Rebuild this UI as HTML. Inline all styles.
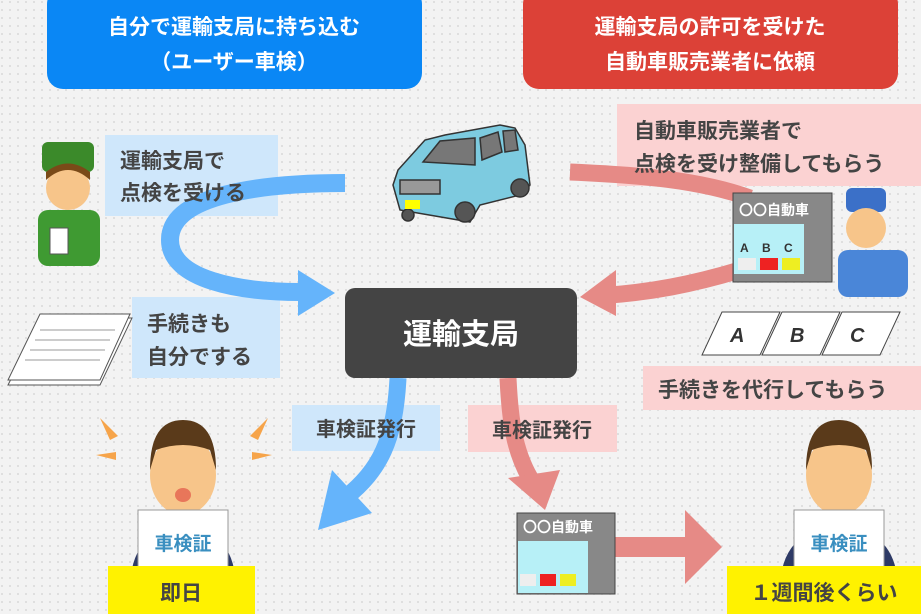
<!DOCTYPE html>
<html><head><meta charset="utf-8"><style>
html,body{margin:0;padding:0;}
body{width:921px;height:614px;overflow:hidden;background:#f3f3f3;}
svg{display:block;}
text{font-family:"Liberation Sans","Noto Sans CJK JP",sans-serif;font-weight:bold;}
</style></head><body>
<svg width="921" height="614" viewBox="0 0 921 614" xmlns="http://www.w3.org/2000/svg">
<defs>
<pattern id="dots" width="8" height="8" patternUnits="userSpaceOnUse"><circle cx="2" cy="2" r="1" fill="#d9d9d9"/></pattern>
</defs>
<rect width="921" height="614" fill="#f3f3f3"/>
<rect width="921" height="614" fill="url(#dots)"/>

<!-- headers -->
<rect x="47" y="-12" width="375" height="101" rx="16" fill="#0a87f5"/>
<text x="234" y="34" font-size="21" fill="#fff" text-anchor="middle">自分で運輸支局に持ち込む</text>
<text x="234" y="69" font-size="21" fill="#fff" text-anchor="middle">（ユーザー車検）</text>
<rect x="523" y="-12" width="375" height="101" rx="16" fill="#dc4137"/>
<text x="710" y="34" font-size="21" fill="#fff" text-anchor="middle">運輸支局の許可を受けた</text>
<text x="710" y="69" font-size="21" fill="#fff" text-anchor="middle">自動車販売業者に依頼</text>

<!-- label backgrounds -->
<rect x="105" y="135" width="173" height="81" fill="#cfe7fb"/>
<rect x="132" y="297" width="148" height="81" fill="#cfe7fb"/>
<rect x="617" y="104" width="304" height="82" fill="#fbd2d2"/>
<rect x="643" y="366" width="278" height="44" fill="#fbd2d2"/>
<rect x="292" y="405" width="148" height="46" fill="#cfe7fb"/>
<rect x="468" y="405" width="149" height="47" fill="#fbd2d2"/>

<!-- blue arrows -->
<path d="M345 183 C260 183 170 195 170 240 C170 280 240 292 300 292" fill="none" stroke="#65b4fb" stroke-width="18"/>
<polygon points="298,270 335,293 298,316" fill="#65b4fb"/>
<path d="M398 378 C395 440 380 470 345 498" fill="none" stroke="#65b4fb" stroke-width="17"/>
<polygon points="332,470 372,513 318,530" fill="#65b4fb"/>

<!-- red arrows -->
<path d="M570 172 C640 175 700 180 750 198" fill="none" stroke="#e68a86" stroke-width="17"/>
<path d="M740 270 C690 285 650 292 610 295" fill="none" stroke="#e68a86" stroke-width="17"/>
<polygon points="616,270 580,297 616,316" fill="#e68a86"/>
<path d="M508 378 C510 420 514 450 530 478" fill="none" stroke="#e68a86" stroke-width="17"/>
<polygon points="508,478 560,470 545,510" fill="#e68a86"/>
<rect x="615" y="537" width="70" height="20" fill="#e68a86"/>
<polygon points="685,510 722,547 685,584" fill="#e68a86"/>

<!-- label texts -->
<text x="120" y="168" font-size="21" fill="#444">運輸支局で</text>
<text x="120" y="200" font-size="21" fill="#444">点検を受ける</text>
<text x="147" y="331" font-size="21" fill="#444">手続きも</text>
<text x="147" y="364" font-size="21" fill="#444">自分でする</text>
<text x="634" y="138" font-size="21" fill="#444">自動車販売業者で</text>
<text x="634" y="171" font-size="21" fill="#444">点検を受け整備してもらう</text>
<text x="658" y="397" font-size="21" fill="#444">手続きを代行してもらう</text>
<text x="366" y="436" font-size="20" fill="#444" text-anchor="middle">車検証発行</text>
<text x="542" y="437" font-size="20" fill="#444" text-anchor="middle">車検証発行</text>

<!-- center -->
<rect x="345" y="288" width="232" height="90" rx="10" fill="#444"/>
<text x="461" y="344" font-size="29" fill="#fff" text-anchor="middle">運輸支局</text>

<!-- car -->
<g stroke="#333" stroke-width="1.5">
<path d="M393 185 L398 170 L425 140 L445 135 L500 125 L515 128 L525 145 L530 185 L520 195 L480 205 L470 222 L400 210 Z" fill="#7dcbe0"/>
<path d="M423 162 L440 141 L475 138 L475 165 Z" fill="#777"/>
<path d="M480 138 L498 132 L502 152 L482 160 Z" fill="#777"/>
<path d="M503 131 L515 130 L518 150 L505 152 Z" fill="#777"/>
<rect x="400" y="180" width="40" height="14" fill="#999"/>
<circle cx="465" cy="212" r="10" fill="#555"/><circle cx="520" cy="188" r="9" fill="#555"/>
<circle cx="408" cy="215" r="6" fill="#555"/>
<rect x="405" y="200" width="15" height="9" fill="#ff0" stroke="none"/>
</g>

<!-- left worker -->
<rect x="42" y="142" width="52" height="30" rx="6" fill="#3b8a2a"/>
<circle cx="68" cy="188" r="22" fill="#f7c58a"/>
<path d="M46 180 Q68 160 90 180 L90 172 Q68 155 46 172 Z" fill="#7a4a18"/>
<rect x="38" y="210" width="62" height="56" rx="10" fill="#3f9a32"/>
<rect x="50" y="228" width="18" height="26" fill="#fff" stroke="#555"/>

<!-- papers -->
<g stroke="#555" fill="#fff"><polygon points="8,385 100,385 132,318 42,318"/><polygon points="8,380 100,380 130,314 40,314"/></g>
<g stroke="#999"><line x1="40" y1="330" x2="115" y2="330"/><line x1="35" y1="340" x2="110" y2="340"/><line x1="30" y1="350" x2="105" y2="350"/><line x1="25" y1="360" x2="100" y2="360"/></g>

<!-- shop top -->
<rect x="733" y="193" width="99" height="89" fill="#888" stroke="#444"/>
<text x="739" y="215" font-size="14" fill="#fff">〇〇自動車</text>
<rect x="734" y="224" width="70" height="50" fill="#b7f0f7"/>
<rect x="738" y="258" width="18" height="12" fill="#eee"/><rect x="760" y="258" width="18" height="12" fill="#e22"/><rect x="782" y="258" width="18" height="12" fill="#ee2"/>
<text x="740" y="252" font-size="12" fill="#333">A</text><text x="762" y="252" font-size="12" fill="#333">B</text><text x="784" y="252" font-size="12" fill="#333">C</text>
<!-- mechanic -->
<rect x="846" y="188" width="40" height="24" rx="6" fill="#3b70c8"/>
<circle cx="866" cy="228" r="20" fill="#f7c58a"/>
<rect x="838" y="250" width="70" height="47" rx="10" fill="#4a86d8"/>
<!-- ABC -->
<g stroke="#444" fill="#fff"><polygon points="702,355 760,355 780,312 722,312"/><polygon points="762,355 820,355 840,312 782,312"/><polygon points="822,355 880,355 900,312 842,312"/></g>
<text x="730" y="342" font-size="20" font-style="italic" fill="#333">A</text><text x="790" y="342" font-size="20" font-style="italic" fill="#333">B</text><text x="850" y="342" font-size="20" font-style="italic" fill="#333">C</text>

<!-- shop bottom -->
<rect x="517" y="513" width="98" height="81" fill="#888" stroke="#444"/>
<text x="523" y="532" font-size="14" fill="#fff">〇〇自動車</text>
<rect x="518" y="541" width="70" height="52" fill="#b7f0f7"/>
<rect x="520" y="574" width="16" height="12" fill="#eee"/><rect x="540" y="574" width="16" height="12" fill="#e22"/><rect x="560" y="574" width="16" height="12" fill="#ee2"/>

<!-- person left -->
<g fill="#f6a44a"><polygon points="100,418 118,436 110,440"/><polygon points="268,418 250,436 258,440"/><polygon points="96,455 116,452 116,460"/><polygon points="272,455 252,452 252,460"/></g>
<path d="M130 590 Q130 530 183 525 Q236 530 236 590 Z" fill="#2e3a66"/>
<ellipse cx="183" cy="475" rx="33" ry="40" fill="#f7c58a"/>
<path d="M150 470 Q150 420 183 420 Q216 420 216 470 L210 450 Q183 440 156 450 Z" fill="#5a3a1a"/>
<ellipse cx="183" cy="495" rx="8" ry="7" fill="#e8765a"/>
<rect x="138" y="510" width="90" height="60" fill="#fff" stroke="#999"/>
<text x="183" y="550" font-size="19" fill="#3a8fc0" text-anchor="middle">車検証</text>
<!-- person right -->
<path d="M780 590 Q780 530 839 525 Q898 530 898 590 Z" fill="#2e3a66"/>
<ellipse cx="839" cy="475" rx="33" ry="40" fill="#f7c58a"/>
<path d="M806 470 Q806 420 839 420 Q872 420 872 470 L866 450 Q839 440 812 450 Z" fill="#5a3a1a"/>
<rect x="794" y="510" width="90" height="60" fill="#fff" stroke="#999"/>
<text x="839" y="550" font-size="19" fill="#3a8fc0" text-anchor="middle">車検証</text>

<!-- yellow -->
<rect x="108" y="566" width="147" height="48" fill="#fff200"/>
<text x="181" y="600" font-size="21" fill="#444" text-anchor="middle">即日</text>
<rect x="727" y="566" width="194" height="48" fill="#fff200"/>
<text x="824" y="600" font-size="21" fill="#444" text-anchor="middle">１週間後くらい</text>
</svg>
</body></html>
